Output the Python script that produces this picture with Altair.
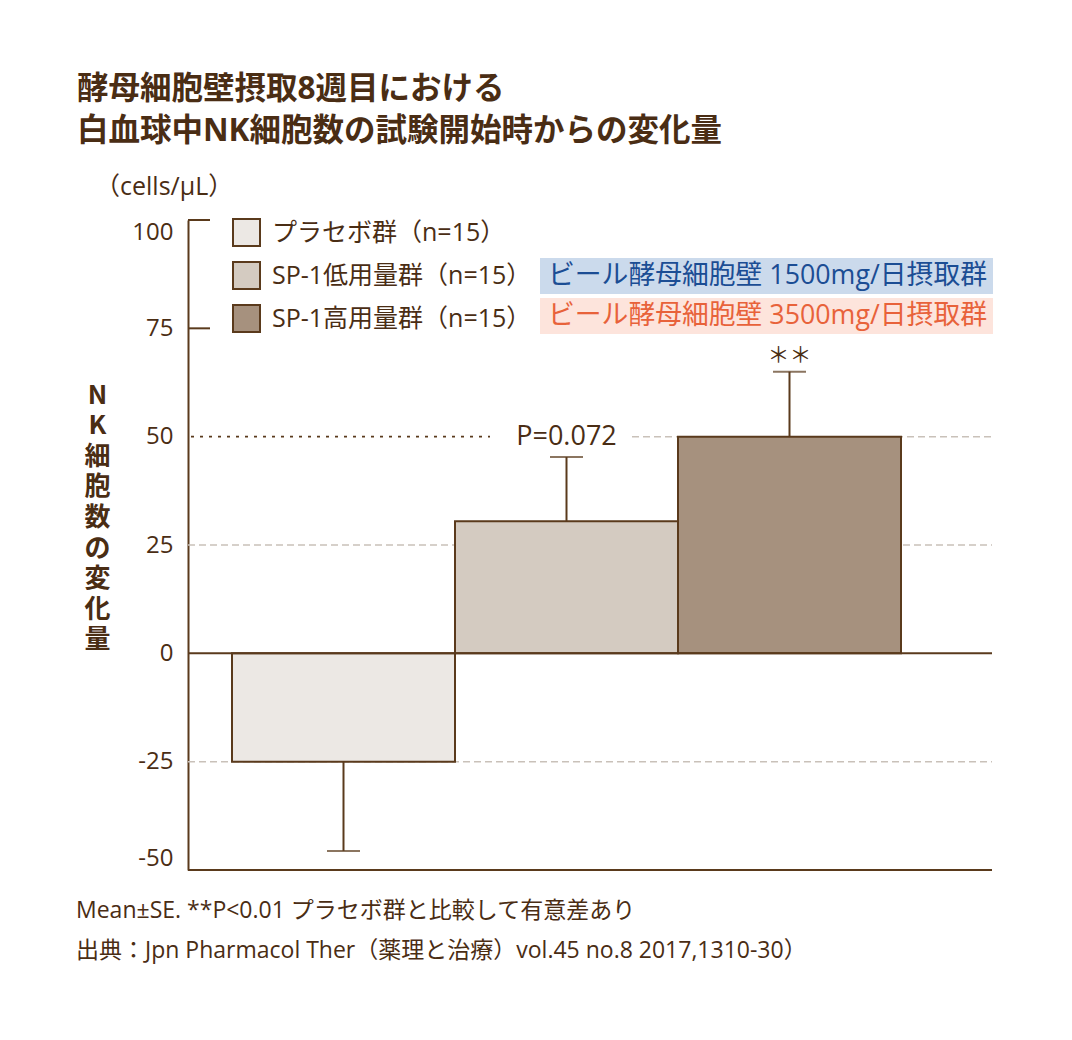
import altair as alt
import pandas as pd

# ---- data ----
groups = ["プラセボ群", "SP-1低用量群", "SP-1高用量群"]
means = [-25.0, 30.5, 50.0]
ses = [20.6, 14.8, 15.0]
n_counts = [15, 15, 15]
y_ticks = [100, 75, 50, 25, 0, -25, -50]
inner_ticks = [100, 75]
grid_full = [25, -25]
grid_50 = 50
p_label = "P=0.072"
sig_label = "＊＊"
dose_labels = ["ビール酵母細胞壁 1500mg/日摂取群", "ビール酵母細胞壁 3500mg/日摂取群"]
title_lines = ["酵母細胞壁摂取8週目における", "白血球中NK細胞数の試験開始時からの変化量"]
unit_label = "（cells/μL）"
y_title = ["N", "K", "細", "胞", "数", "の", "変", "化", "量"]
notes = ["Mean±SE. **P<0.01 プラセボ群と比較して有意差あり",
         "出典：Jpn Pharmacol Ther（薬理と治療）vol.45 no.8 2017,1310-30）"]

# ---- styles ----
FONT = "Open Sans, Noto Sans CJK JP"
TEXT = "#4a2d14"
BROWN = "#5a3a1c"
GRAY = "#c9c1b9"
FILLS = ["#ece8e4", "#d4cbc1", "#a6917e"]
W, H = 804, 650

df = pd.DataFrame({"group": groups, "mean": means, "se": ses, "n": n_counts})
df["err_end"] = [m + (s if m >= 0 else -s) for m, s in zip(means, ses)]

xscale = alt.Scale(domain=groups, range=[44, 713], paddingInner=0, paddingOuter=0)
yscale = alt.Scale(domain=[-50, 100], nice=False, zero=False)

X = alt.X("group:N", scale=xscale, axis=None, sort=groups)

yaxis = alt.Axis(values=y_ticks, ticks=False, grid=False, domainColor=BROWN, domainWidth=2,
                 labelFont=FONT, labelFontSize=24, labelColor=TEXT, labelPadding=15,
                 labelFlush=True, labelExpr="'' + datum.value",
                 title=y_title, titleAngle=0, titleFont="Noto Sans CJK JP", titleFontSize=26,
                 titleFontWeight="bold", titleColor=TEXT, titleLineHeight=30.6,
                 titleX=-91, titleY=162, titleAlign="center", titleBaseline="top")

one = pd.DataFrame({"k": [0]})

grid = alt.Chart(pd.DataFrame({"v": grid_full})).mark_rule(
    color=GRAY, strokeWidth=1.5, strokeDash=[7, 4]).encode(
    y=alt.Y("v:Q", scale=yscale, axis=yaxis), x=alt.value(0), x2=alt.value(W))

grid50a = alt.Chart(pd.DataFrame({"v": [grid_50]})).mark_rule(
    color=BROWN, strokeWidth=1.6, strokeDash=[3, 6]).encode(
    y=alt.Y("v:Q", scale=yscale), x=alt.value(3), x2=alt.value(302))
grid50b = alt.Chart(pd.DataFrame({"v": [grid_50]})).mark_rule(
    color=GRAY, strokeWidth=1.5, strokeDash=[7, 4]).encode(
    y=alt.Y("v:Q", scale=yscale), x=alt.value(444), x2=alt.value(W))

ticks_in = alt.Chart(pd.DataFrame({"v": inner_ticks})).mark_rule(
    color=BROWN, strokeWidth=2).encode(
    y=alt.Y("v:Q", scale=yscale), x=alt.value(0), x2=alt.value(22))

bars = alt.Chart(df).mark_bar(stroke=BROWN, strokeWidth=2).encode(
    x=X,
    y=alt.Y("mean:Q", scale=yscale),
    fill=alt.Fill("group:N", sort=groups,
                  scale=alt.Scale(domain=groups, range=FILLS),
                  legend=alt.Legend(orient="none", legendX=44, legendY=-2, title=None,
                                    symbolType="square", symbolSize=729,
                                    symbolStrokeColor=BROWN, symbolStrokeWidth=2,
                                    symbolOpacity=1, labelFont=FONT, labelFontSize=25,
                                    labelColor=TEXT, labelOffset=11, rowPadding=8,
                                    padding=0, labelLimit=400,
                                    labelExpr="datum.label + '（n=15）'")),
)

err = alt.Chart(df).mark_rule(color=BROWN, strokeWidth=2).encode(
    x=X, y=alt.Y("mean:Q", scale=yscale), y2="err_end:Q")
caps = alt.Chart(df).mark_tick(orient="horizontal", size=33, thickness=2, color=BROWN).encode(
    x=X, y=alt.Y("err_end:Q", scale=yscale))

zero = alt.Chart(pd.DataFrame({"v": [0]})).mark_rule(color=BROWN, strokeWidth=2).encode(
    y=alt.Y("v:Q", scale=yscale), x=alt.value(0), x2=alt.value(W))
bottom = alt.Chart(pd.DataFrame({"v": [-50]})).mark_rule(color=BROWN, strokeWidth=2).encode(
    y=alt.Y("v:Q", scale=yscale), x=alt.value(0), x2=alt.value(W))

p_text = alt.Chart(df[df["group"] == groups[1]].assign(lab=p_label, yv=grid_50)).mark_text(
    font=FONT, fontSize=27, color=TEXT, baseline="middle", align="center").encode(
    x=X, y=alt.Y("yv:Q", scale=yscale), text="lab:N")
sig_text = alt.Chart(df[df["group"] == groups[2]].assign(lab=sig_label)).mark_text(
    font="Noto Sans CJK JP", fontSize=22, color=TEXT, baseline="middle", align="center",
    dy=-17).encode(
    x=X, y=alt.Y("err_end:Q", scale=yscale), text="lab:N")

box_blue = alt.Chart(one).mark_rect(color="#cbdaec").encode(
    x=alt.value(352), x2=alt.value(805), y=alt.value(38), y2=alt.value(74))
box_pink = alt.Chart(one).mark_rect(color="#fde4dc").encode(
    x=alt.value(352), x2=alt.value(805), y=alt.value(78), y2=alt.value(114))
txt_blue = alt.Chart(one).mark_text(font=FONT, fontSize=26.8, color="#1b4d94", align="left",
                                    baseline="middle", text=dose_labels[0]).encode(
    x=alt.value(360), y=alt.value(56))
txt_pink = alt.Chart(one).mark_text(font=FONT, fontSize=26.8, color="#e8623a", align="left",
                                    baseline="middle", text=dose_labels[1]).encode(
    x=alt.value(360), y=alt.value(96))

unit = alt.Chart(one).mark_text(font=FONT, fontSize=25, color=TEXT, align="left",
                                baseline="middle", text=unit_label).encode(
    x=alt.value(-93), y=alt.value(-33))

note1 = alt.Chart(one).mark_text(font=FONT, fontSize=23, color=TEXT, align="left",
                                 baseline="middle", text=notes[0]).encode(
    x=alt.value(-112), y=alt.value(691))
note2 = alt.Chart(one).mark_text(font=FONT, fontSize=23, color=TEXT, align="left",
                                 baseline="middle", text=notes[1]).encode(
    x=alt.value(-112), y=alt.value(731))

chart = alt.layer(
    grid, grid50a, grid50b, bars, err, caps, zero, bottom, ticks_in,
    p_text, sig_text, box_blue, box_pink, txt_blue, txt_pink, unit, note1, note2
).properties(
    width=W, height=H,
    background="white",
    autosize=alt.AutoSizeParams(type="none"),
    padding={"left": 180, "top": 212, "right": 64, "bottom": 150},
    title=alt.Title(text=title_lines, anchor="start", frame="group",
                    dx=-111, fontSize=31.5, fontWeight="bold", color=TEXT, font=FONT,
                    lineHeight=42, offset=28),
).configure_view(stroke=None)

chart.save("out.html", embed_options={"renderer": "svg", "actions": False})
